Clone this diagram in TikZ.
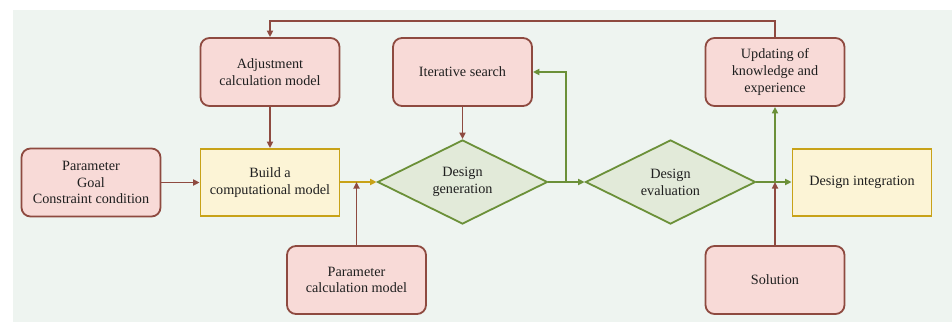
\documentclass[tikz,border=0pt]{standalone}
\usepackage{fontspec}
\setmainfont{Liberation Serif}
\usetikzlibrary{arrows.meta,shapes.geometric}
\definecolor{bgc}{HTML}{EEF4F0}
\definecolor{pinkfill}{HTML}{F8DAD7}
\definecolor{pinkline}{HTML}{8E4A40}
\definecolor{yelfill}{HTML}{FCF4D6}
\definecolor{yelline}{HTML}{C8A218}
\definecolor{grnfill}{HTML}{E2EAD9}
\definecolor{grnline}{HTML}{6B9038}
\tikzset{
  every node/.style={font=\fontsize{14.2}{16.8}\selectfont, text=black!88, align=center},
  inbox/.style={draw=pinkline, fill=pinkfill, line width=1.8pt, rounded corners=9pt,
    minimum width=139pt, minimum height=68pt, inner sep=2pt},
  procbox/.style={draw=yelline, fill=yelfill, line width=1.8pt,
    minimum width=139pt, minimum height=67pt, inner sep=2pt},
  decide/.style={draw=grnline, fill=grnfill, line width=1.8pt, diamond, aspect=2.02,
    minimum width=170pt, minimum height=84pt, inner sep=0pt},
  redarrow/.style={draw=pinkline, line width=1.8pt, -{Triangle[length=6.5pt,width=6pt]}},
  grnarrow/.style={draw=grnline, line width=1.8pt, -{Triangle[length=6.5pt,width=6pt]}},
  yelarrow/.style={draw=yelline, line width=1.8pt, -{Triangle[length=6.5pt,width=6pt]}},
}
\begin{document}
\begin{tikzpicture}[x=1pt,y=-1pt]
\useasboundingbox (0,0) rectangle (952,322);
\fill[bgc] (13,10) rectangle (952,322);

% nodes
\node[inbox] (adj) at (270,72) {Adjustment\\calculation model};
\node[inbox] (iter) at (462.5,72) {Iterative search};
\node[inbox] (upd) at (775,72) {Updating of\\knowledge and\\experience};
\node[inbox] (pgc) at (91,182.5) {Parameter\\Goal\\Constraint condition};
\node[procbox] (build) at (270,182.5) {Build a\\computational model};
\node[decide] (gen) at (462.5,182) {Design\\generation};
\node[decide] (eval) at (670.5,182) {Design\\evaluation};
\node[procbox] (integ) at (862,182.5) {Design integration};
\node[inbox] (pcm) at (356.5,280) {Parameter\\calculation model};
\node[inbox] (sol) at (775,280) {Solution};

% junction points on the main flow
\coordinate (j1) at (pcm.north |- gen.west);
\coordinate (j2) at (566,182);
\coordinate (j3) at (upd.south |- eval.east);

% connectors
\draw[redarrow] (upd.north) -- ++(0,-16) -| (adj.north);
\draw[redarrow] (adj.south) -- (build.north);
\draw[redarrow] (pgc.east) -- (build.west);
\draw[yelarrow] (build.east |- gen.west) -- (gen.west);
\draw[redarrow] (pcm.north) -- (j1);
\draw[redarrow] (iter.south) -- (gen.north);
\draw[grnarrow] (gen.east) -- (eval.west);
\draw[grnarrow] (j2) |- (iter.east);
\draw[grnarrow] (eval.east) -- (integ.west |- eval.east);
\draw[grnarrow] (j3) -- (upd.south);
\draw[redarrow] (sol.north) -- (j3);
\end{tikzpicture}
\end{document}
